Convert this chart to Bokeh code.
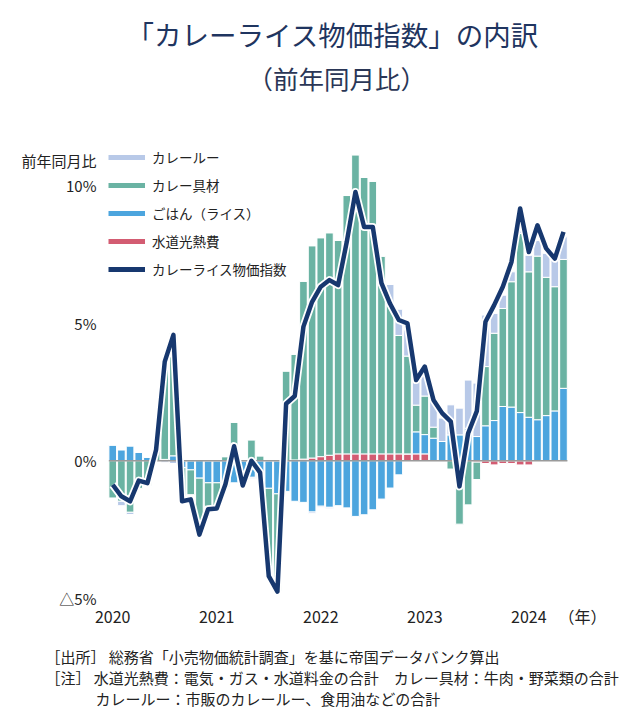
import numpy as np
from bokeh.plotting import figure
from bokeh.models import FixedTicker, Legend, LegendItem, Range1d, Title
from bokeh.embed import file_html
from bokeh.resources import INLINE

# ---------------- data ----------------
months = list(range(53))  # 2020-01 .. 2024-05 (monthly)
year_ticks = [0, 12, 24, 36, 48]
year_labels = ["2020", "2021", "2022", "2023", "2024"]
unit_tick, unit_label = 54.2, "（年）"
y_ticks = [-5, 0, 5, 10]
y_labels = ["△5%", "0%", "5%", "10%"]
y_title_tick, y_title = 10.9, "前年同月比"

title_text = "「カレーライス物価指数」の内訳"
subtitle_text = "（前年同月比）"
footer_lines = ["［出所］ 総務省「小売物価統計調査」を基に帝国データバンク算出",
                "［注］ 水道光熱費：電気・ガス・水道料金の合計　カレー具材：牛肉・野菜類の合計",
                "カレールー：市販のカレールー、食用油などの合計"]

series_names = ["カレールー", "カレー具材", "ごはん（ライス）", "水道光熱費", "カレーライス物価指数"]

roux = [0, -0.16, -0.08, 0, 0, 0, -0.05, -0.1, 0, 0, -0.1, 0,
        0, 0, 0, -0.1, -0.05, 0, 0, 0, 0, 0, 0, -0.05,
        -0.05, -0.05, 0, 0, 0, 0, 0, 0, 0.75, 0.95, 0.95, 0.9,
        0.9, 1.0, 0.85, 1.09, 0.97, 1.75, 1.94, 1.87, 0.72, 0.48, 0.36, 0.5,
        0.6, 0.57, 0.87, 0.96, 0.82]
ingredients = [-1.35, -1.47, -1.87, -1.0, -0.9, 0.4, 3.55, 4.45, -1.2, -0.9, -1.95, -0.85,
               -0.85, 0.15, 1.4, 0.0, 0.75, 0.18, -3.2, -3.5, 3.26, 3.84, 6.46, 7.7,
               7.94, 8.07, 7.75, 9.38, 10.86, 10.04, 9.9, 7.18, 5.4, 4.3, 3.55, 0.97,
               1.4, 0.4, 0.0, -0.3, -2.3, -1.6, -0.63, 2.15, 3.17, 3.56, 4.55, 6.5,
               5.28, 5.94, 5.02, 4.51, 4.68]
rice = [0.57, 0.39, 0.53, 0.31, 0.13, 0.0, 0.05, 0.18, -0.25, -0.33, -0.63, -0.8,
        -0.8, -0.95, -0.8, -0.8, -0.6, -0.65, -1.0, -1.2, -1.11, -1.47, -1.51, -1.86,
        -1.65, -1.69, -1.63, -1.71, -2.02, -1.96, -1.78, -1.39, -0.99, -0.51, 0.0, 0.8,
        0.7, 0.82, 0.7, 0.94, 0.94, 1.18, 0.88, 1.27, 1.46, 1.97, 1.95, 1.75,
        1.58, 1.49, 1.64, 1.81, 2.63]
utilities = [0, 0, 0, 0, 0, 0, 0, 0, 0, 0, 0, 0,
             0, 0, 0, 0, 0, 0, 0, 0, 0, 0.03, 0.06, 0.1,
             0.15, 0.2, 0.25, 0.25, 0.25, 0.25, 0.25, 0.25, 0.25, 0.25, 0.25, 0.25,
             0.25, 0, 0, 0, 0, 0, -0.05, -0.1, -0.15, -0.1, -0.1, -0.15,
             -0.15, 0, 0, 0, 0]
index_total = [-0.87, -1.29, -1.47, -0.72, -0.81, 0.4, 3.6, 4.57, -1.47, -1.4, -2.68, -1.76,
               -1.73, -0.85, 0.53, -0.9, 0.0, -0.43, -4.19, -4.75, 2.07, 2.35, 4.87, 5.77,
               6.32, 6.56, 6.38, 7.95, 9.76, 8.49, 8.49, 6.45, 5.7, 5.11, 4.99, 2.93,
               3.42, 2.21, 1.73, 1.42, -0.93, 1.0, 1.8, 5.05, 5.65, 6.32, 7.22, 9.16,
               7.58, 8.55, 7.71, 7.34, 8.31]

colors = {
    "roux": "#b8c9e8",
    "ingredients": "#6ab3a3",
    "rice": "#4ca5de",
    "utilities": "#d35c72",
    "index": "#17386f",
}

FONT = "Noto Sans CJK JP"

# ---------------- figure ----------------
W, H = 631, 713
p = figure(width=W, height=H,
           x_range=Range1d(-0.95, 55.0), y_range=Range1d(-5, 11.7),
           output_backend="svg", toolbar_location=None,
           min_border_left=104, min_border_right=42,
           min_border_top=138, min_border_bottom=115)
p.background_fill_color = "white"
p.border_fill_color = "white"
p.outline_line_color = None
p.xgrid.grid_line_color = None
p.ygrid.grid_line_color = None

# stacked bars, positive and negative stacks separately
x = np.array(months, dtype=float)
pos_base = np.zeros(len(months))
neg_base = np.zeros(len(months))
stack_order = [(utilities, colors["utilities"]), (rice, colors["rice"]),
               (ingredients, colors["ingredients"]), (roux, colors["roux"])]
for vals, col in stack_order:
    v = np.array(vals, dtype=float)
    bottom = np.where(v >= 0, pos_base, neg_base)
    top = bottom + v
    p.vbar(x=x, bottom=bottom, top=top, width=0.88,
           fill_color=col, line_color="white", line_width=1)
    pos_base = pos_base + np.clip(v, 0, None)
    neg_base = neg_base + np.clip(v, None, 0)

# zero baseline
p.line(x=[months[0] - 0.45, months[-1] + 0.45], y=[0, 0], line_color="#9a9a9a", line_width=1.5)

# index line with white halo
p.line(x=x, y=index_total, line_color="white", line_width=8, line_join="round")
p.line(x=x, y=index_total, line_color=colors["index"], line_width=4.5, line_join="round")

# axes
xt = year_ticks + [unit_tick]
xl = year_labels + [unit_label]
p.xaxis.ticker = FixedTicker(ticks=xt)
p.xaxis.major_label_overrides = {t: l for t, l in zip(xt, xl)}
yt = y_ticks + [y_title_tick]
yl = y_labels + [y_title]
p.yaxis.ticker = FixedTicker(ticks=yt)
p.yaxis.major_label_overrides = {t: l for t, l in zip(yt, yl)}
for ax in (p.xaxis[0], p.yaxis[0]):
    ax.axis_line_color = None
    ax.major_tick_line_color = None
    ax.minor_tick_line_color = None
    ax.major_tick_out = 0
    ax.major_tick_in = 0
    ax.minor_tick_out = 0
    ax.major_label_text_font = FONT
    ax.major_label_text_color = "#222222"
ax_x, ax_y = p.xaxis[0], p.yaxis[0]
ax_x.major_label_text_font_size = "16px"
ax_y.major_label_text_font_size = "15px"
ax_x.major_label_standoff = 5
ax_y.major_label_standoff = 8

# legend (line samples, backed by invisible NaN lines)
legend_colors = [colors["roux"], colors["ingredients"], colors["rice"], colors["utilities"], colors["index"]]
items = []
for name, col in zip(series_names, legend_colors):
    r = p.line(x=np.array([np.nan]), y=np.array([np.nan]), line_color=col, line_width=5)
    items.append(LegendItem(label=name, renderers=[r]))
legend = Legend(items=items, location=(4, 319), glyph_width=37, glyph_height=20,
                label_height=20, spacing=8, padding=0, margin=0,
                label_text_font=FONT, label_text_font_size="13.5px",
                label_text_color="#222222", label_standoff=7,
                background_fill_alpha=0, border_line_alpha=0)
p.add_layout(legend)


def text_panel(text, size, color, offset, standoff, valign="bottom"):
    return Title(text=text, align="left", offset=offset, standoff=standoff,
                 vertical_align=valign, text_font=FONT, text_font_size=size,
                 text_font_style="normal", text_color=color)


# above the frame (first added sits closest to the frame)
p.add_layout(text_panel(" ", "2px", "white", 0, 38), "above")              # spacer
p.add_layout(text_panel(subtitle_text, "25.5px", "#2a3656", 143, 0), "above")
p.add_layout(text_panel(title_text, "27.5px", "#1f3560", 22, 5), "above")

# below the x axis
p.add_layout(text_panel(" ", "2px", "white", 0, 9), "below")               # spacer
p.add_layout(text_panel(footer_lines[0], "15px", "#222222", -59, -2), "below")
p.add_layout(text_panel(footer_lines[1], "15px", "#222222", -59, -2), "below")
p.add_layout(text_panel(footer_lines[2], "15px", "#222222", -9, -2), "below")

open("out.html", "w").write(file_html(p, INLINE))
